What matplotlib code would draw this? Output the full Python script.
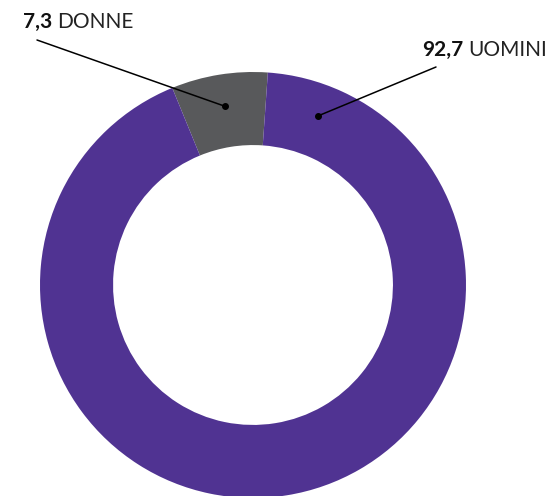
import numpy as np
import matplotlib.pyplot as plt

labels = ["DONNE", "UOMINI"]
values = [7.3, 92.7]
value_text = ["7,3", "92,7"]
colors = ["#58595B", "#503392"]

W, H = 546, 496
fig = plt.figure(figsize=(W / 100, H / 100), dpi=100)
# donut: centre (253, 285) px from top-left, outer radius 213 px
cx, cy, r = 253, 285, 213
ax = fig.add_axes([(cx - r) / W, (H - cy - r) / H, 2 * r / W, 2 * r / H])
ax.pie(values, colors=colors, startangle=86, counterclock=True, radius=1,
       wedgeprops=dict(width=0.343, edgecolor="none"))
ax.set_xlim(-1, 1)
ax.set_ylim(-1, 1)
ax.set_aspect("equal")
ax.axis("off")

# marker points inside the ring (angle deg, radius)
dots = [(99, 0.85), (69, 0.85)]
# leader line start points and label anchors in pixels from top-left
line_start = [(37, 40), (436, 67)]
label_pos = [(23, 22), (422, 50)]

for (ang, rad), (lx, ly), (tx, ty), num, lab in zip(dots, line_start, label_pos, value_text, labels):
    a = np.deg2rad(ang)
    px, py = rad * np.cos(a), rad * np.sin(a)
    ax.plot([px], [py], "o", color="black", markersize=4, clip_on=False)
    ax.annotate("", xy=(px, py), xycoords="data",
                xytext=(lx / W, 1 - ly / H), textcoords="figure fraction",
                arrowprops=dict(arrowstyle="-", color="black", lw=1.1,
                                shrinkA=0, shrinkB=0))
    t = fig.text(tx / W, 1 - ty / H, num, fontsize=15, fontweight="bold",
                 family="Lato", va="center", ha="left", color="#111111")
    fig.canvas.draw()
    bb = t.get_window_extent()
    fig.text((bb.x1 + 5) / W, 1 - ty / H, lab, fontsize=15, fontweight="normal",
             family="Lato", va="center", ha="left", color="#222222")

fig.savefig("out.png", dpi=100)
